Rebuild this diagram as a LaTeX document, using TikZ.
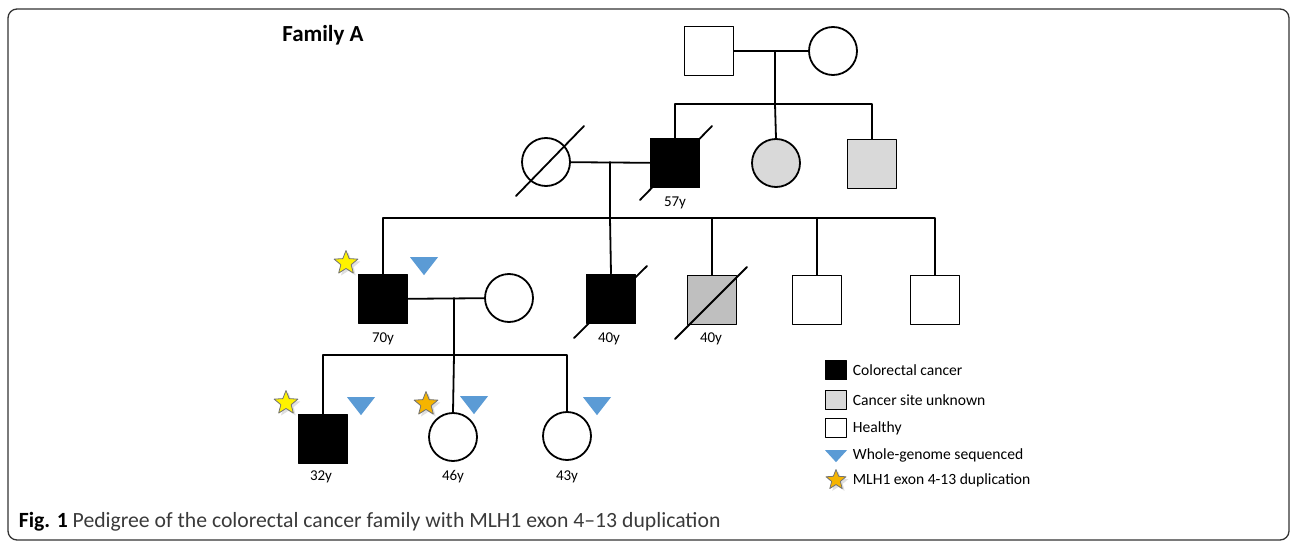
\documentclass[tikz,border=0pt]{standalone}
\usepackage{fontspec}
\setmainfont{Carlito}
\usetikzlibrary{shapes.geometric}
\usetikzlibrary{shadows}
\definecolor{siteunknown}{HTML}{D9D9D9}
\definecolor{deadgrey}{HTML}{BFBFBF}
\definecolor{wgsblue}{HTML}{5B9BD5}
\definecolor{dupgold}{HTML}{F5B400}
\definecolor{captiongrey}{HTML}{3A3A3A}

\begin{document}
\begin{tikzpicture}[x=1pt, y=-1pt, line cap = round, line join = round, line width=1.8pt]
\tikzstyle{male}=[draw=black, rectangle, minimum size=49pt, inner sep=0pt]
\tikzstyle{female}=[draw=black, circle, minimum size=48pt, inner sep=0pt]
\tikzstyle{crc}=[fill=black]
\tikzstyle{unknown}=[fill=siteunknown]
\tikzstyle{age}=[font=\fontsize{15}{17}\selectfont, inner sep=0pt]
\tikzstyle{dup}=[star, star points=5, star point ratio=2.3, minimum size=25pt, inner sep=0pt, draw=black!55, line width=0.8pt, fill=yellow, drop shadow={opacity=0.25}]
\tikzstyle{wgs}=[isosceles triangle, isosceles triangle stretches, shape border rotate=-90, minimum width=28pt, minimum height=18pt, inner sep=0pt, fill=wgsblue]
\tikzstyle{key}=[draw=black, rectangle, minimum width=21pt, minimum height=19pt, inner sep=0pt, line width=1.3pt]
\tikzstyle{keytext}=[anchor=west, inner sep=0pt, font=\fontsize{15.6}{18}\selectfont]

\useasboundingbox (0,0) rectangle (1296,543);
\draw[line width=1.3pt, color=black!80, rounded corners=9pt] (8,9) rectangle (1289,540);

\node[anchor=base, inner sep=0pt, font=\fontsize{23}{27}\selectfont\bfseries] (title) at (323,42) {Family A};

\node[male] (I1) at (709,51) {};
\node[female] (I2) at (833,51) {};
\coordinate (m1) at (775,51);
\coordinate (s1) at (775,104);
\draw (I1) -- (I2);
\draw (m1) -- (s1);

\node[female] (II1) at (546,162) {};
\node[male,crc] (II2) at (675,163) {};
\node[female,unknown] (II3) at (776,163) {};
\node[male,unknown] (II4) at (872,164) {};
\draw (II2.north) |- (s1) -| (II4.north);
\draw (s1) -- (II3.north);
\draw (II1.center) ++(-30,34) -- ++(68,-70);
\draw (II2.center) ++(-35,37) -- ++(72,-74);
\node[age] (a57) at (675,203) {57y};
\coordinate (m2) at (610,162);
\coordinate (s2) at (610,218);
\draw (II1) -- (II2);
\draw (m2) -- (s2);

\node[male,crc] (III1) at (383,299) {};
\node[female] (III2) at (509,298) {};
\node[male,crc] (III3) at (611,299) {};
\node[male,fill=deadgrey] (III4) at (712,300) {};
\node[male] (III5) at (817,300) {};
\node[male] (III6) at (935,300) {};
\draw (III1.north) |- (s2) -| (III6.north);
\draw (s2) -- (III3.north);
\draw (III4.north) -- (III4.north |- s2);
\draw (III5.north) -- (III5.north |- s2);
\draw (III3.center) ++(-37,39) -- ++(73,-72);
\draw (III4.center) ++(-37,39) -- ++(72,-72);
\node[age] (a70) at (383,339) {70y};
\node[age] (a40) at (609,339) {40y};
\node[age] (a40b) at (711,339) {40y};
\node[dup] (st1) at (346,263) {};
\node[wgs] (w1) at (424,264) {};
\coordinate (m3) at (454,298);
\coordinate (s3) at (454,355);
\draw (III1) -- (III2);
\draw (m3) -- (s3);

\node[male,crc] (IV1) at (323,439) {};
\node[female] (IV2) at (453,437) {};
\node[female] (IV3) at (567,436) {};
\draw (IV1.north) |- (s3) -| (IV3.north);
\draw (s3) -- (IV2.north);
\node[age] (a32) at (321,477) {32y};
\node[age] (a46) at (453,477) {46y};
\node[age] (a43) at (567,477) {43y};
\node[dup] (st2) at (286,403) {};
\node[dup,fill=dupgold] (st3) at (426,404) {};
\node[wgs] (w2) at (361,404) {};
\node[wgs] (w3) at (474,403) {};
\node[wgs] (w4) at (597,404) {};

\node[key,fill=black] (k1) at (836,370) {};
\node[key,fill=siteunknown,line width=1.8pt] (k2) at (836,400) {};
\node[key] (k3) at (836,428) {};
\node[wgs,minimum width=22pt,minimum height=12pt] (k4) at (836,455) {};
\node[dup,fill=dupgold,minimum size=21pt] (k5) at (836,480) {};
\node[keytext] (t1) at (852,370) {Colorectal cancer};
\node[keytext] (t2) at (852,400) {Cancer site unknown};
\node[keytext] (t3) at (852,428) {Healthy};
\node[keytext] (t4) at (852,455) {Whole-genome sequenced};
\node[keytext] (t5) at (852,480) {MLH1 exon 4-13 duplication};

\node[anchor=base west, inner sep=0pt, font=\fontsize{21.7}{25}\selectfont] (caption) at (18,527) {\textbf{Fig. 1} \textcolor{captiongrey}{Pedigree of the colorectal cancer family with MLH1 exon 4--13 duplication}};
\end{tikzpicture}
\end{document}
